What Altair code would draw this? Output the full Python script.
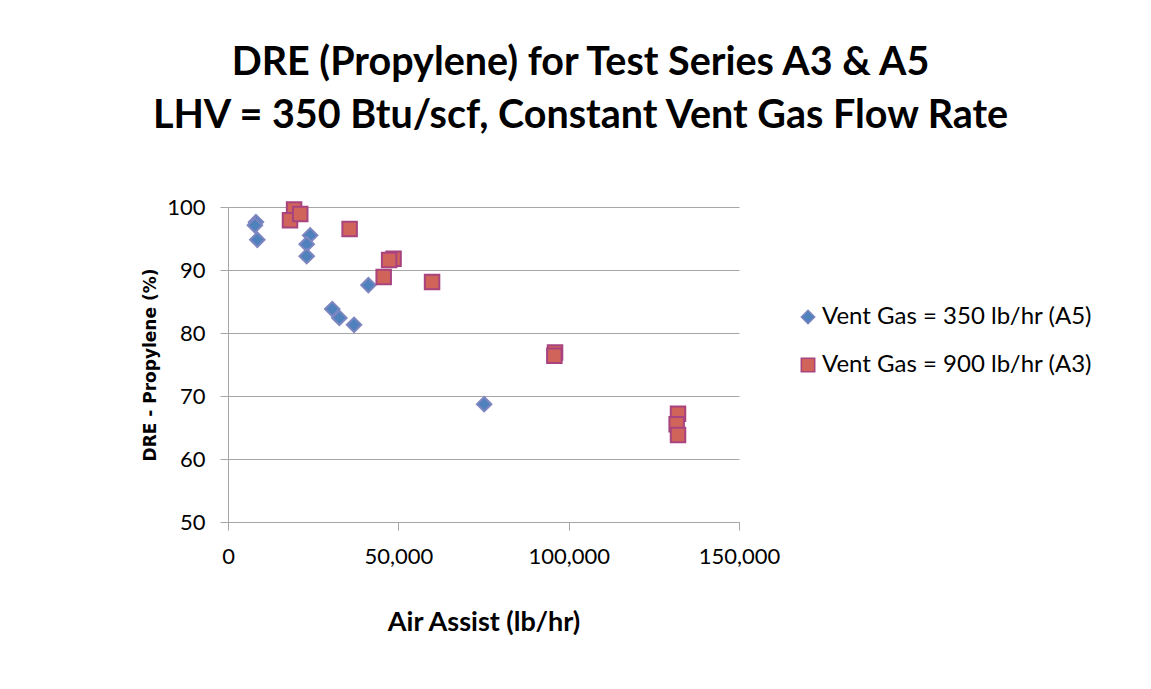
import altair as alt
import pandas as pd

# Series A5: Vent Gas = 350 lb/hr
a5_air = [8200, 7900, 8600, 24100, 23100, 23100, 30600, 32700, 37000, 41200, 75200]
a5_dre = [97.6, 97.1, 94.8, 95.5, 94.1, 92.2, 83.8, 82.4, 81.3, 87.6, 68.7]

# Series A3: Vent Gas = 900 lb/hr
a3_air = [19400, 18200, 21200, 35700, 48600, 47300, 45700, 59900, 96000, 95800, 132100, 131700, 132100]
a3_dre = [99.6, 97.9, 98.9, 96.5, 91.8, 91.6, 88.9, 88.1, 76.9, 76.4, 67.2, 65.5, 63.8]

series_names = ["Vent Gas = 350 lb/hr (A5)", "Vent Gas = 900 lb/hr (A3)"]
x_ticks = [0, 50000, 100000, 150000]
y_ticks = [50, 60, 70, 80, 90, 100]

df = pd.concat([
    pd.DataFrame({"air": a5_air, "dre": a5_dre, "series": series_names[0], "order": 0}),
    pd.DataFrame({"air": a3_air, "dre": a3_dre, "series": series_names[1], "order": 1}),
], ignore_index=True)

FONT = "Lato"
GRID = "#A6A6A6"

legend = alt.Legend(
    title=None, orient="none", legendX=568, legendY=98,
    labelFontSize=24, labelFont=FONT, labelColor="black", labelLimit=400,
    symbolSize=180, rowPadding=24, labelOffset=2, symbolStrokeWidth=1.5,
)

chart = alt.Chart(df).mark_point(filled=True, opacity=1, strokeWidth=2).encode(
    x=alt.X("air:Q", title="Air Assist (lb/hr)",
            scale=alt.Scale(domain=[0, 150000], nice=False),
            axis=alt.Axis(values=x_ticks, format=",.0f", grid=False, tickSize=8,
                          labelFlush=False, labelPadding=16, titlePadding=42,
                          titleFontSize=27)),
    y=alt.Y("dre:Q", title="DRE - Propylene (%)",
            scale=alt.Scale(domain=[50, 100], nice=False, zero=False),
            axis=alt.Axis(values=y_ticks, grid=True, tickSize=8, labelFlush=False,
                          labelPadding=15, titlePadding=7, titleFontSize=17,
                          titleFont="DejaVu Sans")),
    fill=alt.Fill("series:N", scale=alt.Scale(domain=series_names, range=["#4F81BD", "#D0645A"]), legend=legend),
    stroke=alt.Stroke("series:N", scale=alt.Scale(domain=series_names, range=["#7E86C0", "#A8437F"]), legend=legend),
    shape=alt.Shape("series:N", scale=alt.Scale(domain=series_names, range=["diamond", "square"]), legend=legend),
    size=alt.value(210),
    order=alt.Order("order:Q"),
).properties(
    width=511, height=315,
    title=alt.TitleParams(
        text=["DRE (Propylene) for Test Series A3 & A5",
              "LHV = 350 Btu/scf, Constant Vent Gas Flow Rate"],
        font=FONT, fontSize=39.5, fontWeight="bold", color="black",
        anchor="middle", frame="group", dx=97, offset=60, lineHeight=53,
    ),
    autosize=alt.AutoSizeParams(type="none"),
    padding={"left": 220, "top": 199, "right": 404, "bottom": 150},
).configure(background="white").configure_view(stroke=None).configure_axis(
    labelFont=FONT, labelFontSize=22, labelColor="black",
    titleFont=FONT, titleFontWeight="bold", titleColor="black",
    domainColor=GRID, tickColor=GRID, gridColor=GRID, domainWidth=1, gridWidth=1,
)

chart.save("out.html", embed_options={"renderer": "svg", "actions": False})
